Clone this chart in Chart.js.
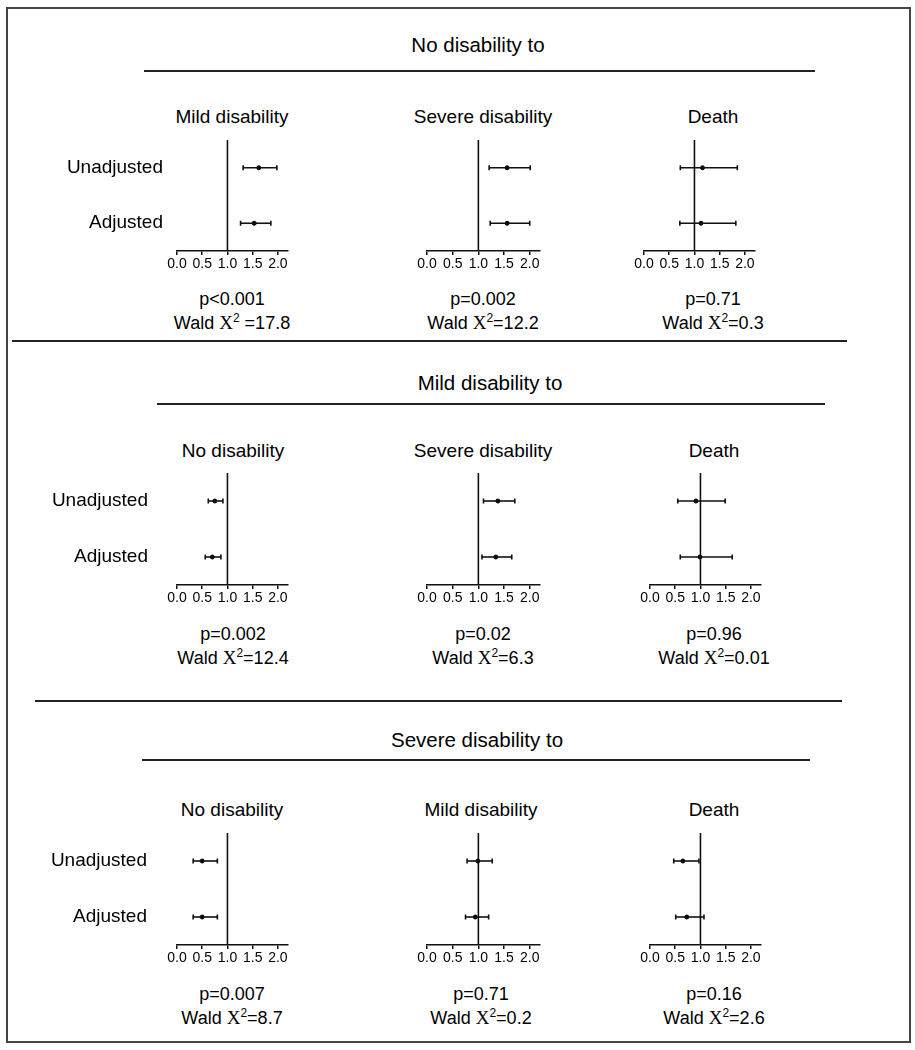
<!DOCTYPE html>
<html>
<head>
<meta charset="utf-8">
<script src="https://cdn.jsdelivr.net/npm/chart.js@4.4.1/dist/chart.umd.min.js"></script>
<style>
  body { margin: 0; background: #fff; }
  #page { position: relative; width: 915px; height: 1050px; font-family: "Liberation Sans", Arial, sans-serif; color: #000; }
  .frame { position: absolute; left: 6px; top: 7px; width: 905px; height: 1036px; border: 2px solid #444; box-sizing: border-box; }
  .rule { position: absolute; height: 1.5px; background: #222; }
  .txt { position: absolute; transform: translate(-50%, -50%); white-space: nowrap; }
  .sec { font-size: 20.5px; }
  .ttl { font-size: 19px; }
  .stat { font-size: 18px; line-height: 24px; text-align: center; }
  .chi { font-family: "Liberation Serif", "Times New Roman", serif; font-size: 19px; }
  sup { font-size: 12px; vertical-align: 7px; line-height: 0; }
  canvas { position: absolute; }
</style>
</head>
<body>
<div id="page">
  <div class="frame"></div>
</div>
<script>
// section and panel titles
const sectionTitles = ["No disability to", "Mild disability to", "Severe disability to"];
const panelTitles = [
    ["Mild disability", "Severe disability", "Death"],
    ["No disability", "Severe disability", "Death"],
    ["No disability", "Mild disability", "Death"]
];
const rowLabels = ["Unadjusted", "Adjusted"];
const tickValues = [0, 0.5, 1, 1.5, 2];

// odds ratios with 95% CI, panels in reading order
const pointUnadj = [1.62, 1.56, 1.16, 0.75, 1.38, 0.91, 0.50, 0.99, 0.65];
const lowUnadj   = [1.31, 1.21, 0.72, 0.62, 1.10, 0.55, 0.32, 0.78, 0.47];
const highUnadj  = [1.98, 2.01, 1.85, 0.91, 1.71, 1.49, 0.80, 1.27, 0.97];
const pointAdj   = [1.53, 1.56, 1.13, 0.70, 1.34, 0.99, 0.50, 0.94, 0.73];
const lowAdj     = [1.26, 1.23, 0.71, 0.56, 1.07, 0.60, 0.32, 0.75, 0.51];
const highAdj    = [1.86, 2.00, 1.82, 0.87, 1.65, 1.63, 0.80, 1.20, 1.07];

const pTexts    = ["p<0.001", "p=0.002", "p=0.71", "p=0.002", "p=0.02", "p=0.96", "p=0.007", "p=0.71", "p=0.16"];
const waldTexts = [" =17.8", "=12.2", "=0.3", "=12.4", "=6.3", "=0.01", "=8.7", "=0.2", "=2.6"];

// layout
const page = document.getElementById("page");
const secY = [45, 383, 740];
const secX = [478, 490, 477];
const secRule = [[144, 815, 70], [157, 825, 403], [142, 810, 759]];
const sepRule = [[12, 847, 340], [35, 842, 700]];
const titleY = [117, 451, 810];
const titleX = [[232, 483, 713], [233, 483, 714], [232, 481, 714]];
const statY = [311, 646, 1006];
const topY = [140, 473, 833];
const axisY = [251, 585, 945];
const axisX0 = [[177, 427, 644], [177, 427, 650], [177, 427, 650]];
const axisLen = [111, 113, 111];
const labelPad = [14, 29, 30];

function addText(cls, x, y, html) {
    const d = document.createElement("div");
    d.className = "txt " + cls;
    d.style.left = x + "px";
    d.style.top = y + "px";
    d.innerHTML = html;
    page.appendChild(d);
}
function addRule(x1, x2, y) {
    const d = document.createElement("div");
    d.className = "rule";
    d.style.left = x1 + "px";
    d.style.top = y + "px";
    d.style.width = (x2 - x1) + "px";
    page.appendChild(d);
}

secRule.forEach(r => addRule(r[0], r[1], r[2]));
sepRule.forEach(r => addRule(r[0], r[1], r[2]));

const padL = 20, padR = 20, padT = 50, padB = 24, xH = 26, yW = 150;
const ink = "#111";

for (let r = 0; r < 3; r++) {
    addText("sec", secX[r], secY[r], sectionTitles[r]);
    for (let c = 0; c < 3; c++) {
        const i = r * 3 + c;
        addText("ttl", titleX[r][c], titleY[r], panelTitles[r][c]);
        addText("stat", titleX[r][c], statY[r],
            pTexts[i] + "<br>Wald <span class=\"chi\">X</span><sup>2</sup>" + waldTexts[i]);

        const withY = c === 0;
        const cv = document.createElement("canvas");
        const w = (withY ? yW : 0) + padL + axisLen[c] + padR;
        const h = padT + (axisY[r] - topY[r]) + xH + padB;
        cv.width = w;
        cv.height = h;
        cv.style.left = (axisX0[r][c] - padL - (withY ? yW : 0)) + "px";
        cv.style.top = (topY[r] - padT) + "px";
        page.appendChild(cv);

        const ciStyle = {
            showLine: true,
            borderColor: ink,
            borderWidth: 1.6,
            pointStyle: "line",
            pointRotation: 90,
            pointRadius: 2.5,
            pointBorderWidth: 1.6,
            pointBorderColor: ink
        };

        new Chart(cv.getContext("2d"), {
            type: "scatter",
            data: {
                datasets: [
                    {
                        data: [{ x: 1, y: 0 }, { x: 1, y: 1 }],
                        showLine: true,
                        borderColor: ink,
                        borderWidth: 1.6,
                        pointRadius: 0
                    },
                    Object.assign({ data: [{ x: lowUnadj[i], y: 0.75 }, { x: highUnadj[i], y: 0.75 }] }, ciStyle),
                    Object.assign({ data: [{ x: lowAdj[i], y: 0.25 }, { x: highAdj[i], y: 0.25 }] }, ciStyle),
                    {
                        data: [{ x: pointUnadj[i], y: 0.75 }, { x: pointAdj[i], y: 0.25 }],
                        pointRadius: 2,
                        backgroundColor: "#000",
                        borderColor: "#000"
                    }
                ]
            },
            options: {
                responsive: false,
                animation: false,
                layout: { padding: { left: padL, right: padR, top: padT, bottom: padB } },
                plugins: { legend: { display: false }, tooltip: { enabled: false } },
                scales: {
                    x: {
                        type: "linear",
                        min: 0,
                        max: 2.2,
                        afterBuildTicks: s => { s.ticks = tickValues.map(v => ({ value: v })); },
                        afterFit: s => { s.height = xH; },
                        ticks: {
                            callback: v => v.toFixed(1),
                            font: { family: "'Liberation Sans', Arial", size: 14 },
                            color: "#000",
                            padding: 1,
                            maxRotation: 0,
                            autoSkip: false
                        },
                        grid: { drawOnChartArea: false, drawTicks: true, tickLength: 4, color: ink, lineWidth: 1.5 },
                        border: { color: ink, width: 1.6 }
                    },
                    y: {
                        type: "linear",
                        min: 0,
                        max: 1,
                        display: withY,
                        afterBuildTicks: s => { s.ticks = [0.75, 0.25].map(v => ({ value: v })); },
                        afterFit: s => { if (withY) s.width = yW; },
                        ticks: {
                            callback: (v, idx) => rowLabels[idx],
                            font: { family: "'Liberation Sans', Arial", size: 19 },
                            color: "#000",
                            padding: labelPad[r]
                        },
                        grid: { display: false, drawTicks: false },
                        border: { display: false }
                    }
                }
            }
        });
    }
}
</script>
</body>
</html>
